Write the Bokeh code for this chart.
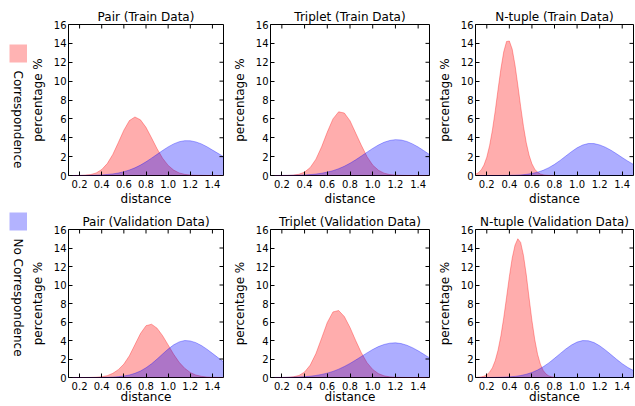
import math
from bokeh.plotting import figure
from bokeh.models import Range1d, FixedTicker, PrintfTickFormatter
from bokeh.layouts import row, column
from bokeh.embed import file_html
from bokeh.resources import INLINE
from bokeh.core.properties import value

# ---------------- data ----------------
DIST = [0.10, 0.15, 0.20, 0.25, 0.30, 0.35, 0.40, 0.45, 0.50, 0.55, 0.60, 0.65, 0.70, 0.75,
        0.80, 0.85, 0.90, 0.95, 1.00, 1.05, 1.10, 1.15, 1.20, 1.25, 1.30, 1.35, 1.40, 1.45, 1.50]
DIST_FINE = [0.100, 0.125, 0.150, 0.175, 0.200, 0.225, 0.250, 0.275, 0.300, 0.325, 0.350,
             0.375, 0.400, 0.425, 0.450, 0.475, 0.500, 0.525, 0.550, 0.575, 0.600, 0.625,
             0.650, 0.675, 0.700, 0.725, 0.750, 0.775, 0.800]

pair_train_corr = [0.0, 0.0, 0.01, 0.04, 0.10, 0.27, 0.63, 1.26, 2.23, 3.49, 4.80, 5.82, 6.20, 5.90,
                   5.10, 3.99, 2.84, 1.83, 1.07, 0.57, 0.27, 0.12, 0.05, 0.02, 0.01, 0.0, 0.0, 0.0, 0.0]
pair_train_nocorr = [0.0, 0.0, 0.01, 0.01, 0.02, 0.04, 0.06, 0.11, 0.17, 0.26, 0.40, 0.58, 0.81, 1.10,
                     1.45, 1.84, 2.24, 2.65, 3.03, 3.35, 3.58, 3.69, 3.68, 3.56, 3.35, 3.05, 2.70, 2.35, 2.00]
triplet_train_corr = [0.0, 0.0, 0.0, 0.01, 0.04, 0.13, 0.36, 0.85, 1.73, 3.04, 4.60, 6.00, 6.75, 6.62,
                      5.80, 4.50, 3.20, 2.00, 1.10, 0.56, 0.25, 0.10, 0.04, 0.01, 0.0, 0.0, 0.0, 0.0, 0.0]
triplet_train_nocorr = [0.0, 0.0, 0.01, 0.01, 0.02, 0.03, 0.06, 0.10, 0.15, 0.24, 0.36, 0.51, 0.72, 0.98,
                        1.30, 1.66, 2.06, 2.47, 2.87, 3.23, 3.52, 3.71, 3.80, 3.76, 3.61, 3.35, 3.02, 2.63, 2.22]
ntuple_train_corr = [0.14, 0.29, 0.59, 1.10, 1.94, 3.17, 4.83, 6.87, 9.13, 11.3, 13.1, 14.2, 14.25, 13.4,
                     11.7, 9.58, 7.32, 5.21, 3.46, 2.15, 1.24, 0.67, 0.34, 0.16, 0.07, 0.03, 0.01, 0.0, 0.0]
ntuple_train_nocorr = [0.0, 0.0, 0.0, 0.0, 0.0, 0.01, 0.02, 0.03, 0.06, 0.12, 0.21, 0.35, 0.55, 0.83,
                       1.18, 1.60, 2.06, 2.52, 2.93, 3.23, 3.39, 3.38, 3.24, 3.00, 2.68, 2.30, 1.90, 1.52, 1.17]

pair_val_corr = [0.0, 0.0, 0.0, 0.0, 0.01, 0.03, 0.08, 0.20, 0.45, 0.85, 1.45, 2.35, 3.55, 4.75,
                 5.60, 5.76, 5.33, 4.52, 3.52, 2.51, 1.64, 0.99, 0.54, 0.27, 0.13, 0.05, 0.02, 0.01, 0.0]
pair_val_nocorr = [0.0, 0.0, 0.0, 0.0, 0.0, 0.0, 0.01, 0.02, 0.04, 0.09, 0.16, 0.27, 0.45, 0.70,
                   1.05, 1.48, 1.99, 2.54, 3.07, 3.53, 3.85, 4.00, 3.95, 3.77, 3.46, 3.06, 2.61, 2.15, 1.70]
triplet_val_corr = [0.0, 0.0, 0.0, 0.02, 0.07, 0.22, 0.59, 1.34, 2.59, 4.25, 5.95, 7.09, 7.24, 6.59,
                    5.41, 4.00, 2.67, 1.60, 0.87, 0.42, 0.18, 0.07, 0.03, 0.01, 0.0, 0.0, 0.0, 0.0, 0.0]
triplet_val_nocorr = [0.0, 0.01, 0.01, 0.02, 0.03, 0.06, 0.09, 0.14, 0.22, 0.33, 0.47, 0.66, 0.90, 1.19,
                      1.52, 1.89, 2.27, 2.66, 3.03, 3.34, 3.57, 3.71, 3.75, 3.67, 3.49, 3.22, 2.89, 2.51, 2.12]
ntuple_val_corr = [0.01, 0.03, 0.06, 0.14, 0.30, 0.58, 1.06, 1.84, 2.97, 4.51, 6.44, 8.65, 10.9, 12.9,
                   14.3, 15.0, 14.6, 13.2, 11.1, 8.59, 6.17, 4.10, 2.52, 1.44, 0.76, 0.37, 0.17, 0.07, 0.03]
ntuple_val_nocorr = [0.0, 0.0, 0.0, 0.01, 0.02, 0.04, 0.07, 0.12, 0.21, 0.35, 0.54, 0.81, 1.16, 1.58,
                     2.07, 2.58, 3.08, 3.51, 3.83, 3.99, 3.97, 3.78, 3.43, 2.98, 2.48, 1.97, 1.49, 1.08, 0.75]

TITLES = ["Pair (Train Data)", "Triplet (Train Data)", "N-tuple (Train Data)",
          "Pair (Validation Data)", "Triplet (Validation Data)", "N-tuple (Validation Data)"]
LEGEND_LABELS = ["Correspondence", "No Correspondence"]
X_TICKS = [0.2, 0.4, 0.6, 0.8, 1.0, 1.2, 1.4]
Y_TICKS = [0, 2, 4, 6, 8, 10, 12, 14, 16]
X_LABEL = "distance"
Y_LABEL = "percentage %"
X_MIN, X_MAX = 0.1, 1.5
Y_MIN, Y_MAX = 0, 16

# ---------------- style ----------------
FONT = "DejaVu Sans"
RED = "#ff0000"
BLUE = "#0000ff"
ALPHA = 0.32
LEG_RED = "#ffb3b3"
LEG_BLUE = "#b3b3ff"
TICK_LEN = 4


def make_panel(title, xr, yr, xb, yb, width, height, bl, br, bt, bb, xlabel_standoff):
    p = figure(width=width, height=height, title=title,
               x_range=Range1d(X_MIN, X_MAX), y_range=Range1d(Y_MIN, Y_MAX),
               toolbar_location=None, output_backend="svg",
               min_border_left=bl, min_border_right=br,
               min_border_top=bt, min_border_bottom=bb)
    p.grid.visible = False
    p.outline_line_color = "black"
    p.outline_line_width = 1
    p.outline_line_alpha = 1.0
    p.background_fill_color = "white"
    p.border_fill_color = "white"

    p.title.text_font = FONT
    p.title.text_font_size = "12px"
    p.title.text_font_style = "normal"
    p.title.text_color = "black"
    p.title.align = "center"
    p.title.standoff = 1

    p.varea(x=xr, y1=[0] * len(xr), y2=yr, fill_color=RED, fill_alpha=ALPHA)
    p.line(xr, yr, line_color=RED, line_alpha=ALPHA, line_width=1)
    p.varea(x=xb, y1=[0] * len(xb), y2=yb, fill_color=BLUE, fill_alpha=ALPHA)
    p.line(xb, yb, line_color=BLUE, line_alpha=ALPHA, line_width=1)

    # mirrored inward ticks on the top and right edges
    p.ray(x=X_TICKS, y=[Y_MAX] * len(X_TICKS), length=TICK_LEN, length_units="screen",
          angle=-math.pi / 2, line_color="black", line_width=1)
    p.ray(x=[X_MAX] * len(Y_TICKS), y=Y_TICKS, length=TICK_LEN, length_units="screen",
          angle=math.pi, line_color="black", line_width=1)

    for ax, ticks, fmt in ((p.xaxis[0], X_TICKS, "%.1f"), (p.yaxis[0], Y_TICKS, "%d")):
        ax.ticker = FixedTicker(ticks=ticks)
        ax.formatter = PrintfTickFormatter(format=fmt)
        ax.major_tick_in = TICK_LEN
        ax.major_tick_out = 0
        ax.minor_tick_in = 0
        ax.minor_tick_out = 0
        ax.axis_line_color = None
        ax.major_tick_line_color = "black"
        ax.major_label_text_font = FONT
        ax.major_label_text_font_size = "10px"
        ax.major_label_text_color = "black"
        ax.axis_label_text_font = FONT
        ax.axis_label_text_font_size = "12px"
        ax.axis_label_text_font_style = "normal"
        ax.axis_label_text_color = "black"
    p.xaxis.major_label_standoff = 4
    p.yaxis.major_label_standoff = 2
    p.yaxis.axis_label = Y_LABEL
    p.yaxis.axis_label_standoff = 6
    p.xaxis.axis_label = X_LABEL
    p.xaxis.axis_label_standoff = xlabel_standoff
    return p


TOP_H, BOT_H = 208, 198
LEG_W = 27
series = [
    (DIST, pair_train_corr, DIST, pair_train_nocorr),
    (DIST, triplet_train_corr, DIST, triplet_train_nocorr),
    (DIST_FINE, ntuple_train_corr, DIST, ntuple_train_nocorr),
    (DIST, pair_val_corr, DIST, pair_val_nocorr),
    (DIST, triplet_val_corr, DIST, triplet_val_nocorr),
    (DIST_FINE, ntuple_val_corr, DIST, ntuple_val_nocorr),
]
col_geom = [(202, 36, 6), (205, 40, 5), (201, 39, 2)]
row_geom = [(TOP_H, 24, 33, 1), (BOT_H, 21, 27, -3)]
rows = []
for r in range(2):
    h, bt, bb, xs = row_geom[r]
    figs = []
    for c in range(3):
        i = r * 3 + c
        w, bl, br = col_geom[c]
        xr, yr, xb, yb = series[i]
        figs.append(make_panel(TITLES[i], xr, yr, xb, yb, w, h, bl, br, bt, bb, xs))
    rows.append(row(*figs))

TOTAL_H = TOP_H + BOT_H
lg = figure(width=LEG_W, height=TOTAL_H, x_range=Range1d(0, LEG_W), y_range=Range1d(0, TOTAL_H),
            toolbar_location=None, output_backend="svg", min_border=0,
            x_axis_type=None, y_axis_type=None)
lg.grid.visible = False
lg.outline_line_color = None
lg.rect(x=[18, 18], y=[TOTAL_H - 53, TOTAL_H - 221], width=18, height=18,
        fill_color=[LEG_RED, LEG_BLUE], line_color=None)
lg.text(x=[17.5, 17.5], y=[TOTAL_H - 119, TOTAL_H - 297], text=LEGEND_LABELS,
        angle=-math.pi / 2, text_align="center", text_baseline="middle",
        text_font=value(FONT), text_font_size="12px", text_color="black")

layout = row(lg, column(*rows))
open("out.html", "w").write(file_html(layout, INLINE))
